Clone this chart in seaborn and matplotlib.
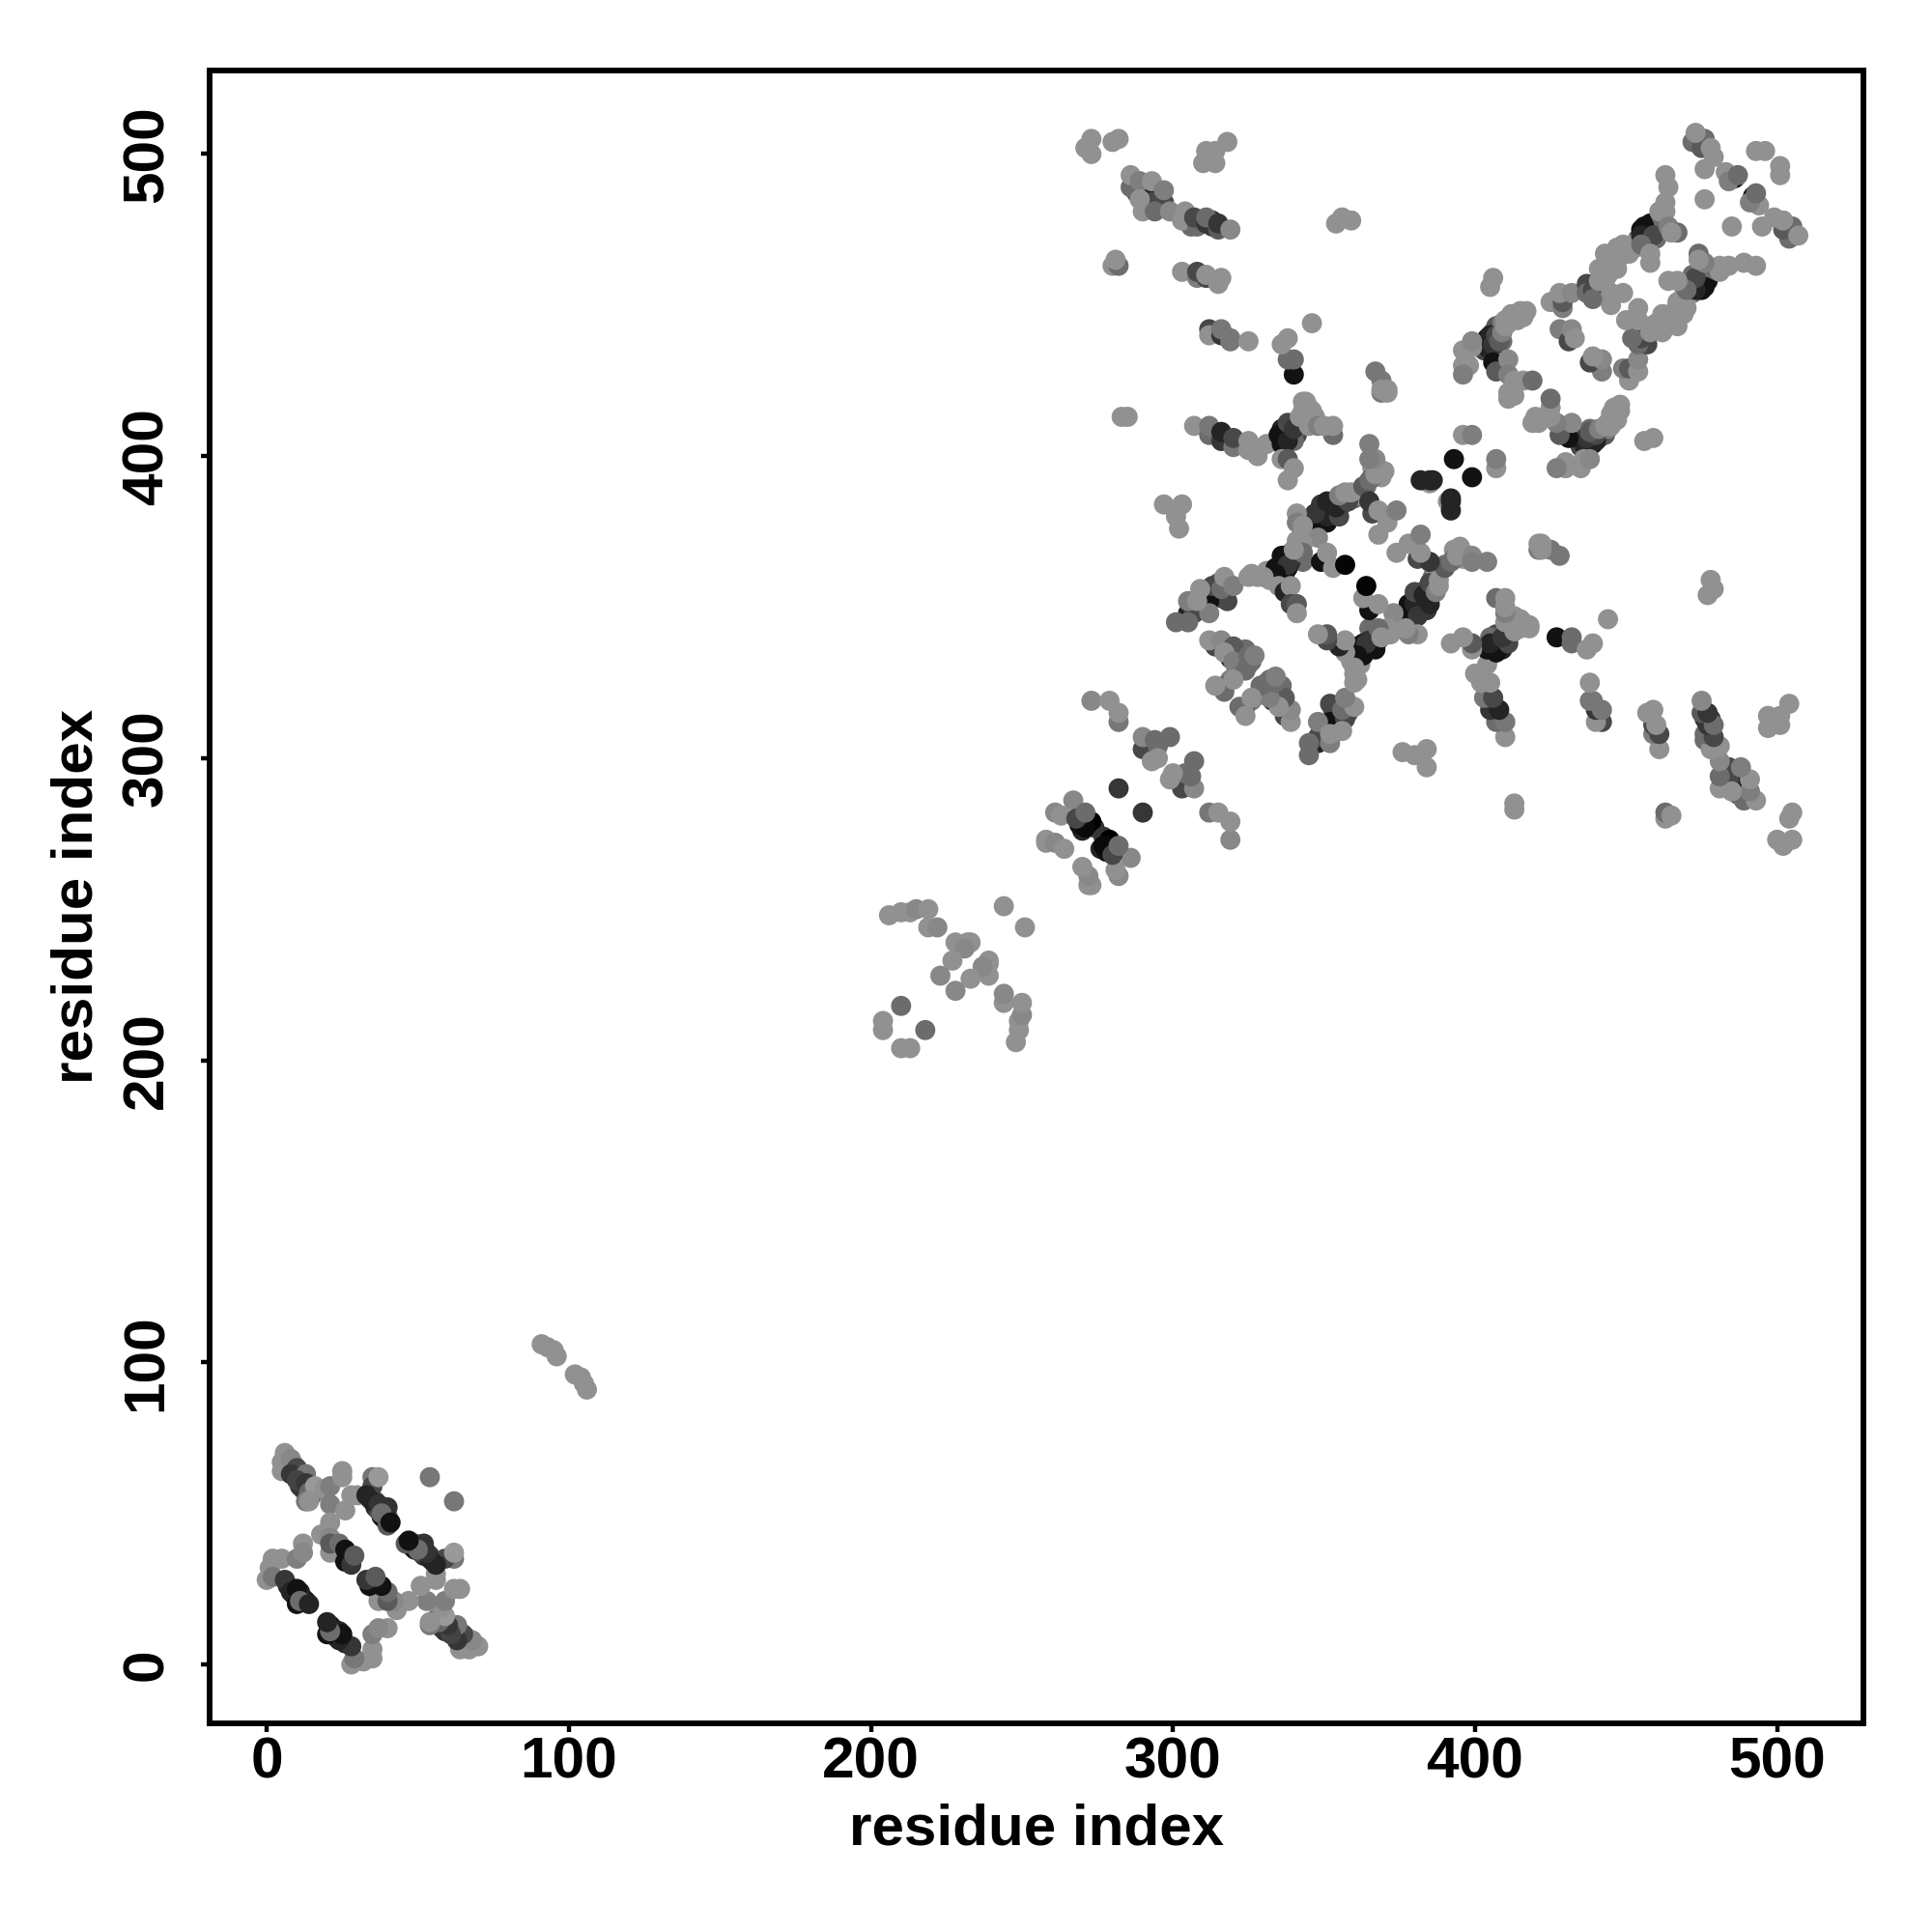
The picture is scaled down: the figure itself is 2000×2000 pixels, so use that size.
import pandas as pd
import matplotlib
matplotlib.use('Agg')
import matplotlib.pyplot as plt
import seaborn as sns

domain_a = [
    (6,70,0x88),(5,67,0x88),(5,64,0x88),(8,68,0x80),(10,65,0x44),(8,63,0x33),(13,63,0x70),
    (10,61,0x40),(13,60,0x33),(14,57,0x60),(16,59,0x90),(13,54,0x70),(14,54,0x88),(19,58,0x88),
    (21,59,0x77),(25,64,0x88),(25,62,0x88),(21,53,0x77),(26,51,0x88),(21,47,0x88),(28,56,0x88),
    (30,56,0x88),(35,62,0x70),(35,59,0x44),(33,56,0x22),(35,54,0x22),(37,53,0x30),(40,52,0x30),
    (37,62,0x90),(38,50,0x66),(40,46,0x55),(41,47,0x11),(54,62,0x70),(18,43,0x88),(21,42,0x80),
    (21,37,0x88),(21,40,0x55),(24,40,0x66),(26,38,0x11),(26,34,0x11),(28,33,0x33),(29,36,0x55),
    (2,35,0x88),(5,35,0x88),(1,32,0x88),(0,28,0x88),(2,29,0x70),(6,28,0x33),(8,24,0x22),
    (10,25,0x11),(10,20,0x11),(11,21,0x66),(14,20,0x22),(10,35,0x77),(12,40,0x88),(12,37,0x80),
]
linker = [(91,106,0x88),(93,105,0x88),(95,104,0x88),(96,102,0x88)]
domain_b = [
    (206,248,0x88),(210,249,0x88),(213,249,0x88),(215,250,0x80),(219,250,0x88),(219,244,0x88),
    (222,244,0x80),(228,239,0x88),(232,239,0x88),(233,239,0x88),(231,237,0x80),(227,233,0x88),
    (223,228,0x80),(244,251,0x88),(210,218,0x66),(204,213,0x88),(204,210,0x88),
]
domain_c = [
    (273,319,0x80),(279,319,0x88),(282,312,0x70),(282,315,0x88),(290,303,0x44),(290,307,0x80),
    (294,306,0x66),(295,304,0x66),(299,307,0x66),(293,299,0x88),(295,300,0x88),(282,290,0x33),
    (269,278,0x11),(273,279,0x00),(271,277,0x0a),(267,286,0x80),(261,282,0x80),(263,281,0x88),
    (268,280,0x44),(271,282,0x66),(258,273,0x88),(258,272,0x88),(261,272,0x80),(264,270,0x88),
]
top_left = [
    (273,505,0x88),(271,502,0x88),(273,500,0x88),(280,504,0x88),(282,505,0x88),(318,504,0x88),
    (311,501,0x88),(314,501,0x88),(310,497,0x88),(314,497,0x88),(286,489,0x66),(286,493,0x88),
    (292,487,0x22),(289,491,0x77),(293,484,0x44),(297,484,0x44),(293,491,0x88),(297,488,0x77),
    (289,485,0x88),(290,481,0x88),(294,481,0x66),(299,481,0x80),(304,481,0x88),(303,478,0x88),
    (308,476,0x66),(307,479,0x44),(311,477,0x33),(311,479,0x66),(315,475,0x55),(315,477,0x33),
    (319,475,0x80),(280,463,0x88),(282,463,0x66),(281,465,0x88),(303,461,0x88),(308,459,0x77),
    (308,461,0x44),(311,459,0x44),(311,460,0x88),(315,457,0x88),(316,459,0x88),(312,442,0x44),
    (312,440,0x88),(316,440,0x33),(316,442,0x70),(319,439,0x70),(319,438,0x70),(325,438,0x88),
    (346,444,0x88),(340,427,0x11),(338,432,0x66),(340,432,0x66),(336,437,0x88),(338,439,0x88),
    (354,477,0x88),(356,479,0x88),(359,478,0x88),(283,413,0x88),(285,413,0x88),
    (297,384,0x88),(303,384,0x88),(301,380,0x88),(302,376,0x88),
]
mid_strands = [
    (307,410,0x88),(312,407,0x66),(312,410,0x70),(316,405,0x33),(316,408,0x22),(320,403,0x70),
    (320,406,0x44),(325,405,0x88),(325,402,0x88),(328,400,0x88),(331,404,0x88),(335,407,0x11),
    (336,404,0x11),(338,405,0x22),(338,411,0x44),(340,409,0x33),(344,418,0x88),(343,418,0x88),
    (346,415,0x88),(342,413,0x88),(345,410,0x88),(348,410,0x77),(353,407,0x66),(350,410,0x88),
    (353,410,0x88),(336,399,0x88),(338,399,0x55),(340,396,0x88),(338,392,0x88),(369,421,0x70),
    (371,421,0x88),(367,428,0x70),(369,425,0x70),(369,422,0x88),(371,422,0x88),
    (348,377,0x11),(351,378,0x11),(351,380,0x22),(355,380,0x44),(347,381,0x33),(354,383,0x22),
    (351,385,0x22),(358,385,0x44),(355,387,0x77),(357,388,0x88),(359,388,0x88),(363,390,0x55),
    (365,392,0x66),(367,394,0x88),(370,395,0x88),(367,399,0x80),(365,399,0x77),(365,404,0x77),
    (341,381,0x88),(341,378,0x77),(343,377,0x88),(343,374,0x88),(348,373,0x80),(343,371,0x88),
    (339,365,0x33),(336,367,0x11),(334,363,0x11),(338,363,0x11),(338,364,0x33),(334,361,0x11),
    (343,368,0x66),(340,369,0x88),(326,361,0x88),(330,360,0x88),(325,360,0x88),(335,357,0x88),
    (337,355,0x22),(339,357,0x88),(339,351,0x44),(341,351,0x55),(341,348,0x88),
]
lower_left = [
    (316,353,0x44),(312,352,0x11),(305,348,0x22),(307,348,0x44),(305,345,0x66),(301,345,0x66),
    (312,348,0x77),(305,352,0x77),(308,352,0x88),(313,357,0x44),(316,356,0x66),(309,356,0x88),
    (317,360,0x88),(320,357,0x77),(314,337,0x44),(312,339,0x88),(316,339,0x80),(319,333,0x22),
    (320,337,0x55),(317,335,0x88),(320,332,0x77),(324,329,0x66),(325,331,0x66),(325,334,0x66),
    (327,334,0x77),(317,322,0x66),(317,324,0x66),(314,324,0x88),(320,326,0x88),
]
centre = [
    (349,365,0x11),(353,363,0x88),(351,368,0x88),(357,364,0x05),(366,381,0x44),(365,385,0x33),
    (368,382,0x88),(371,378,0x88),(368,374,0x88),(374,382,0x77),(385,391,0x88),(382,392,0x22),
    (385,392,0x22),(386,392,0x22),(393,399,0x11),(396,407,0x88),(399,407,0x77),
]
domain_d = [
    (406,459,0x88),(405,456,0x88),(404,439,0x11),(405,440,0x22),(404,436,0x22),(406,437,0x33),
    (407,440,0x44),(408,438,0x55),(409,441,0x77),(410,443,0x88),(412,445,0x88),(413,446,0x88),
    (415,448,0x88),(417,448,0x88),(399,436,0x88),(396,435,0x88),(399,438,0x80),(398,430,0x88),
    (396,430,0x88),(396,427,0x77),(406,431,0x11),(407,428,0x55),(411,432,0x80),(411,427,0x77),
    (413,425,0x88),(416,425,0x88),(419,425,0x66),(411,419,0x88),(413,420,0x88),(411,421,0x88),
    (428,442,0x77),(431,438,0x44),(432,442,0x80),(433,439,0x88),(425,451,0x88),(429,449,0x77),
    (429,451,0x55),(428,454,0x88),(432,454,0x80),(437,457,0x44),(437,454,0x66),(439,455,0x44),
    (439,452,0x66),(445,450,0x88),(445,454,0x88),(449,454,0x88),(441,458,0x88),(441,462,0x88),
    (443,467,0x88),(446,467,0x88),(449,470,0x88),(452,470,0x88),(456,476,0x11),(455,473,0x22),
    (459,473,0x44),(455,470,0x66),(458,464,0x88),(458,467,0x88),(461,481,0x88),(463,484,0x88),
    (463,481,0x88),(464,489,0x88),(463,493,0x88),(464,476,0x77),(467,474,0x66),(465,474,0x88),
]
top_right = [
    (472,504,0x66),(476,505,0x66),(475,502,0x55),(473,507,0x88),(478,502,0x88),(479,499,0x88),
    (476,495,0x88),(486,492,0x11),(483,494,0x88),(484,491,0x77),(487,493,0x66),(476,485,0x88),
    (493,501,0x88),(496,501,0x88),
]
# extra contacts packed into the thick strands, drawn first so they sit underneath
dense_a = [
    (7,26,0x22),(9,23,0x22),(12,22,0x33),(13,21,0x11),(11,24,0x22),(24,37,0x22),(23,38,0x33),
    (27,36,0x11),(28,35,0x0a),(25,36,0x44),(22,39,0x55),(34,55,0x33),(36,52,0x22),(38,49,0x22),
    (39,48,0x11),(37,51,0x44),(36,54,0x44),(39,52,0x66),(40,49,0x55),(9,66,0x55),(11,63,0x44),
    (12,61,0x55),(11,59,0x30),(12,58,0x33),(15,56,0x66),(7,65,0x70),
]
dense_mid = [
    (337,407,0x11),(336,409,0x22),(339,406,0x11),(334,405,0x33),(338,408,0x11),(341,407,0x44),
    (340,405,0x66),(344,412,0x88),(345,416,0x88),(343,415,0x88),(347,413,0x88),(342,410,0x66),
    (341,410,0x55),(349,379,0x11),(350,382,0x11),(352,381,0x22),(353,382,0x22),(349,384,0x33),
    (352,384,0x22),(356,384,0x33),(357,386,0x55),(360,386,0x66),(361,388,0x66),(362,387,0x88),
    (364,390,0x66),(366,396,0x88),(368,396,0x88),(369,393,0x88),(366,393,0x66),(335,362,0x11),
    (336,364,0x11),(337,361,0x11),(338,366,0x22),(337,365,0x11),(339,368,0x44),(340,366,0x55),
    (341,370,0x77),(341,372,0x88),(342,367,0x88),(343,365,0x66),(328,360,0x88),(331,362,0x88),
    (332,359,0x88),
]
dense_d = [
    (403,437,0x11),(405,438,0x11),(406,441,0x33),(407,443,0x55),(408,442,0x44),(409,444,0x77),
    (410,445,0x88),(411,444,0x88),(412,447,0x88),(414,447,0x88),(414,445,0x88),(416,446,0x88),
    (408,440,0x44),(403,435,0x44),(409,438,0x66),(438,456,0x55),(440,453,0x66),(441,455,0x66),
    (442,456,0x77),(443,458,0x88),(444,460,0x88),(444,463,0x88),(446,464,0x88),(447,462,0x88),
    (448,466,0x88),(450,468,0x88),(451,467,0x88),(453,469,0x88),(447,469,0x88),(454,472,0x55),
    (456,474,0x22),(457,475,0x22),(458,477,0x11),(455,475,0x11),(457,473,0x33),(458,471,0x55),
    (460,476,0x33),(460,472,0x66),(462,478,0x66),(406,433,0x33),(408,429,0x66),(409,431,0x66),
]
dense_left = [
    (318,352,0x44),(314,354,0x22),(310,350,0x33),(309,349,0x66),(315,358,0x55),(318,358,0x66),
    (322,333,0x77),(323,331,0x77),(324,336,0x66),(322,335,0x66),(326,332,0x66),(318,336,0x44),
    (321,329,0x77),(319,326,0x77),(288,487,0x55),(290,485,0x33),(291,483,0x66),(295,486,0x33),
    (295,482,0x66),(305,479,0x70),(309,478,0x44),(313,476,0x33),(313,478,0x33),(306,476,0x66),
    (270,280,0x33),(272,278,0x11),(270,276,0x22),(274,277,0x33),
]

groups = [dense_a, dense_mid, dense_d, dense_left, domain_a, linker, domain_b, domain_c,
          top_left, lower_left, mid_strands, centre, domain_d, top_right]
contacts = [c for g in groups for c in g]
df = pd.DataFrame(contacts, columns=['i', 'j', 'shade'])
# the map is symmetric, so every contact is drawn on both sides of the diagonal
mirror = df.rename(columns={'i': 'j', 'j': 'i'})
df = pd.concat([df, mirror], ignore_index=True)

sns.set_theme(style='white', rc={'text.color': 'black', 'axes.labelcolor': 'black',
                                 'xtick.color': 'black', 'ytick.color': 'black'})
plt.rcParams['font.family'] = ['Liberation Sans', 'DejaVu Sans']

fig = plt.figure(figsize=(20, 20), dpi=100)
ax = fig.add_axes([217 / 2000, 1 - 1784 / 2000, (1928.5 - 217) / 2000, (1784 - 72.5) / 2000])

sns.scatterplot(data=df, x='i', y='j', hue='shade', palette='gray', hue_norm=(0, 240),
                s=225, linewidth=0, legend=False, ax=ax)

ax.set_xlim(-18.9, 528.4)
ax.set_ylim(-19.5, 527.8)
ax.set_xticks([0, 100, 200, 300, 400, 500])
ax.set_yticks([0, 100, 200, 300, 400, 500])

for spine in ax.spines.values():
    spine.set_linewidth(4.2)
    spine.set_color('black')

ax.tick_params(axis='both', length=6.5, width=3.2, color='black', left=True, bottom=True)
ax.tick_params(axis='x', pad=3)
ax.tick_params(axis='y', pad=20)
for lab in ax.get_xticklabels():
    lab.set_fontsize(43.5)
    lab.set_fontweight('bold')
for lab in ax.get_yticklabels():
    lab.set_fontsize(43.5)
    lab.set_fontweight('bold')
    lab.set_rotation(90)
    lab.set_va('center')

ax.set_xlabel('residue index', fontsize=43.3, fontweight='bold')
ax.set_ylabel('residue index', fontsize=43.3, fontweight='bold')
ax.xaxis.set_label_coords(0.5, -0.0645, transform=ax.transAxes)
ax.yaxis.set_label_coords(-0.08, 0.5, transform=ax.transAxes)
ax.xaxis.label.set_va('center')
ax.yaxis.label.set_va('center')

plt.savefig('out.png', dpi=100)
